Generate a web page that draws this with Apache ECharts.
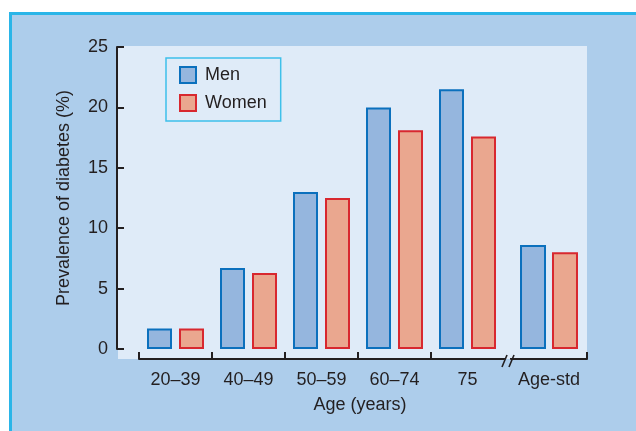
<!DOCTYPE html>
<html><head><meta charset="utf-8">
<script src="https://cdn.jsdelivr.net/npm/echarts@6/dist/echarts.min.js"></script>
<style>
html,body{margin:0;padding:0;background:#fff;width:636px;height:431px;overflow:hidden;}
#outer{position:absolute;left:9px;top:12px;width:700px;height:500px;border-top:3px solid #2ab5e8;border-left:3px solid #2ab5e8;background:#adcdeb;}
#plot{position:absolute;left:118px;top:46px;width:469px;height:313px;background:#dfebf8;}
#chart{position:absolute;left:0;top:0;width:636px;height:431px;}
</style></head>
<body>
<div id="outer"></div><div id="plot"></div><div id="chart"></div>
<script>
const categories = ['20–39', '40–49', '50–59', '60–74', '75', 'Age-std'];
const men = [1.7, 6.7, 13.0, 20.0, 21.5, 8.6];
const women = [1.7, 6.3, 12.5, 18.1, 17.6, 8.0];
const yMax = 25;
const yInterval = 5;
const seriesNames = ['Men', 'Women'];

const FONT = 'Liberation Sans, Arial, sans-serif';
const TXT = '#231f20';
const menStyle = {color: '#95b6de', borderColor: '#0b70bd', borderWidth: 2};
const womenStyle = {color: '#eaa78f', borderColor: '#d8282f', borderWidth: 2};

const chart = echarts.init(document.getElementById('chart'), null, {renderer: 'canvas'});
const axisLine = {show: true, onZero: false, lineStyle: {color: TXT, width: 2}};
const xAxisCommon = {
  type: 'category', position: 'bottom', offset: 10,
  axisLine: axisLine,
  axisTick: {show: true, inside: true, length: 7, lineStyle: {color: TXT, width: 2}},
  axisLabel: {color: TXT, fontSize: 18, fontFamily: FONT, margin: 12, interval: 0},
  splitLine: {show: false}
};
const option = {
  backgroundColor: 'transparent',
  animation: false,
  textStyle: {fontFamily: FONT},
  grid: [
    {left: 139, right: 132, top: 47, bottom: 82},
    {left: 511, right: 49, top: 47, bottom: 82}
  ],
  legend: {
    orient: 'vertical', left: 166, top: 58,
    padding: [8, 14, 9, 13],
    borderColor: '#3ec0ea', borderWidth: 1.5, backgroundColor: 'transparent',
    itemWidth: 16, itemHeight: 16, itemGap: 10,
    textStyle: {color: TXT, fontSize: 18, fontFamily: FONT, padding: [0, 0, 0, 4]},
    data: [
      {name: seriesNames[0], icon: 'rect', itemStyle: menStyle},
      {name: seriesNames[1], icon: 'rect', itemStyle: womenStyle}
    ]
  },
  xAxis: [
    Object.assign({}, xAxisCommon, {gridIndex: 0, data: categories.slice(0, 5)}),
    Object.assign({}, xAxisCommon, {gridIndex: 1, data: categories.slice(5)})
  ],
  yAxis: [
    {
      type: 'value', gridIndex: 0, min: 0, max: yMax, interval: yInterval, offset: 22,
      name: 'Prevalence of diabetes (%)', nameLocation: 'middle', nameGap: 44,
      nameTextStyle: {color: TXT, fontSize: 18, fontFamily: FONT},
      axisLine: axisLine,
      axisTick: {show: true, inside: true, length: 7, lineStyle: {color: TXT, width: 2}},
      axisLabel: {color: TXT, fontSize: 18, fontFamily: FONT, margin: 9},
      splitLine: {show: false}
    },
    {type: 'value', gridIndex: 1, min: 0, max: yMax, interval: yInterval, show: false}
  ],
  series: [
    {name: seriesNames[0], type: 'bar', xAxisIndex: 0, yAxisIndex: 0, data: men.slice(0, 5),
     barWidth: 25, barGap: '28%', itemStyle: menStyle},
    {name: seriesNames[1], type: 'bar', xAxisIndex: 0, yAxisIndex: 0, data: women.slice(0, 5),
     barWidth: 25, barGap: '28%', itemStyle: womenStyle},
    {name: seriesNames[0], type: 'bar', xAxisIndex: 1, yAxisIndex: 1, data: men.slice(5),
     barWidth: 26, barGap: '23%', itemStyle: menStyle},
    {name: seriesNames[1], type: 'bar', xAxisIndex: 1, yAxisIndex: 1, data: women.slice(5),
     barWidth: 26, barGap: '23%', itemStyle: womenStyle}
  ],
  graphic: [
    {type: 'rect', z: 100, shape: {x: 500, y: 350.5, width: 15, height: 7.5}, style: {fill: '#dfebf8'}},
    {type: 'line', z: 100, shape: {x1: 502, y1: 367, x2: 507, y2: 355}, style: {stroke: TXT, lineWidth: 1.6}},
    {type: 'line', z: 100, shape: {x1: 509, y1: 367, x2: 514, y2: 355}, style: {stroke: TXT, lineWidth: 1.6}},
    {type: 'text', z: 100, style: {text: 'Age (years)', x: 360, y: 405, fill: TXT,
      font: '18px ' + FONT, textAlign: 'center', textVerticalAlign: 'middle'}}
  ]
};
chart.setOption(option);
</script>
</body></html>
